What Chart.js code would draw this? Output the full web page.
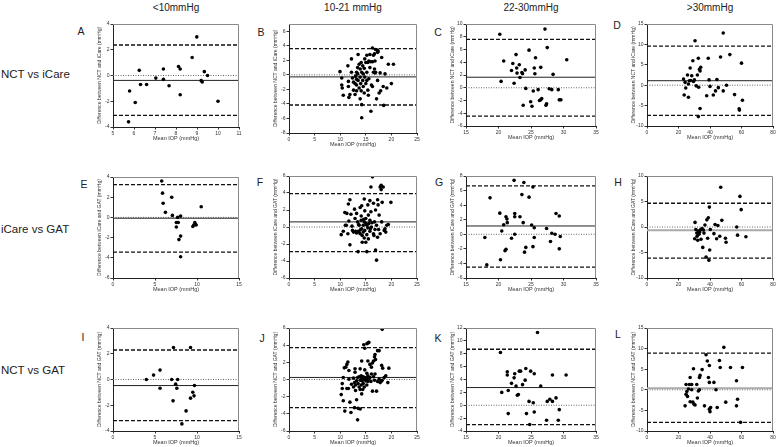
<!DOCTYPE html>
<html>
<head>
<meta charset="utf-8">
<script src="https://cdn.jsdelivr.net/npm/chart.js@4.4.1/dist/chart.umd.min.js"></script>
<style>
  body { margin: 0; background: #fff; }
  #wrap { position: relative; width: 778px; height: 447px; overflow: hidden;
          font-family: "Liberation Sans", Arial, sans-serif; color: #222; }
  .t { position: absolute; white-space: nowrap; line-height: 1; transform: translate(-50%, -50%); color: #222; }
  .row { position: absolute; white-space: nowrap; line-height: 1; transform: translateY(-50%); font-size: 11.5px; color: #222; }
  canvas { position: absolute; }
</style>
</head>
<body>
<div id="wrap"></div>
<script>
// column / row headings
const colTitles = ['<10mmHg', '10-21 mmHg', '22-30mmHg', '>30mmHg'];
const rowTitles = ['NCT vs iCare', 'iCare vs GAT', 'NCT vs GAT'];
const yTitles = ['Difference between NCT and iCare (mmHg)',
                 'Difference between iCare and GAT (mmHg)',
                 'Difference between NCT and GAT (mmHg)'];
const xTitle = 'Mean IOP (mmHg)';

// axis ranges [min, max, step]
const xA = [5, 11, 1],  yA = [-4, 4, 2];
const xB = [0, 25, 5],  yB = [-8, 7, 2];
const xC = [15, 35, 5], yC = [-6, 10, 2];
const xD = [0, 80, 20], yD = [-10, 15, 5];
const xE = [0, 15, 5],  yE = [-6, 4, 2];
const xF = [0, 25, 5],  yF = [-6, 6, 2];
const xG = [15, 35, 5], yG = [-6, 8, 2];
const xH = [0, 80, 20], yH = [-10, 10, 5];
const xI = [0, 15, 5],  yI = [-4, 4, 2];
const xJ = [0, 25, 5],  yJ = [-6, 6, 2];
const xK = [15, 35, 5], yK = [-4, 12, 2];
const xL = [0, 80, 20], yL = [-10, 15, 5];

// limits of agreement [upper, mean bias, lower]
const limA = [2.37, -0.38, -3.1];
const limB = [3.6, -0.28, -4.15];
const limC = [7.6, 1.65, -4.45];
const limD = [9.6, 1.1, -7.4];
const limE = [3.25, -0.08, -3.44];
const limF = [3.92, 0.6, -2.9];
const limG = [6.64, 1.14, -4.5];
const limH = [4.66, -0.62, -6.1];
const limI = [2.29, -0.47, -3.19];
const limJ = [3.72, 0.24, -3.28];
const limK = [8.7, 2.75, -3.0];
const limL = [8.9, 0.4, -7.9];

// points [mean IOP, difference]
const ptsA = [[5.79,-1.2],[6.06,-2.1],[5.74,-3.6],[6.25,0.4],[6.31,-0.7],[6.6,-0.7],[7.04,-0.2],[7.4,0.5],[7.4,-0.3],[7.67,-0.8],
  [8.12,0.7],[8.2,0.5],[8.2,-1.5],[8.77,1.4],[8.99,3.0],[9.2,-0.4],[9.25,-0.5],[9.35,0.3],[9.5,0.0],[10.0,-2.0]];
const ptsB = [[9.96,0.44],[10.3,-0.44],[10.3,-1.4],[10.4,-1.8],[10.6,-2.8],[11.5,1.24],[11.6,-0.9],[11.6,-1.6],[11.7,-3.1],[11.9,-2.7],
  [12.2,2.2],[12.2,0.36],[12.4,-0.44],[12.6,-1.0],[12.6,-2.1],[12.9,-1.2],[12.9,-2.7],[13.0,-0.18],[13.2,0.36],[13.2,-0.62],
  [13.2,-1.4],[13.2,-2.2],[13.4,1.0],[13.4,0.13],[13.5,2.8],[13.5,-0.76],[13.7,1.47],[13.7,-1.8],[13.9,0.8],[13.9,-0.31],
  [13.9,-3.3],[14.0,-1.2],[14.1,1.7],[14.1,-2.2],[14.2,0.36],[14.2,-4.1],[14.2,-5.9],[14.4,1.24],[14.4,-0.76],[14.5,0.13],
  [14.5,-1.6],[14.7,0.9],[14.7,-2.5],[14.8,2.2],[14.8,-0.31],[15.0,1.7],[15.0,-1.2],[15.2,2.7],[15.2,0.36],[15.2,-0.76],
  [15.4,1.7],[15.4,-2.1],[15.5,-2.8],[15.6,1.9],[15.6,-0.53],[15.8,2.8],[15.8,1.0],[15.95,1.8],[16.0,-5.0],[16.1,-1.4],
  [16.3,3.7],[16.3,1.8],[16.3,-1.6],[16.5,2.7],[16.5,0.36],[16.7,0.8],[16.7,2.9],[16.8,1.9],[16.8,0.27],[16.9,3.5],
  [16.9,0.36],[17.1,-3.3],[17.3,3.4],[17.3,3.1],[17.3,-0.76],[17.4,3.2],[17.6,-2.5],[17.8,0.27],[17.9,-2.2],[18.1,2.4],
  [18.4,-1.6],[18.5,-4.2],[18.75,0.13],[19.1,-1.8],[19.4,1.47],[20.0,-1.2],[20.4,1.47]];
const ptsC = [[20.2,8.4],[20.8,4.2],[20.4,1.0],[22.2,3.8],[22.0,2.7],[22.4,0.7],[22.7,5.2],[22.8,3.1],[22.85,2.3],[23.2,3.6],
  [23.3,1.6],[23.6,2.4],[23.7,2.2],[23.8,-2.75],[24.1,2.8],[24.2,-0.1],[24.7,5.9],[24.95,-2.2],[25.15,-2.9],[25.35,-0.5],
  [25.5,3.1],[25.6,2.2],[25.7,4.7],[26.1,-0.3],[26.3,-2.0],[26.5,3.2],[26.5,-1.9],[26.65,-1.7],[27.15,9.2],[27.3,-2.75],
  [27.4,-2.5],[27.5,6.3],[27.8,-0.15],[28.2,-0.3],[28.4,2.1],[29.2,-0.3],[29.35,-1.9],[29.6,-1.9],[30.5,4.4]];
const ptsD = [[23.2,1.5],[23.6,-2.4],[24.2,0.7],[24.6,-0.7],[25.7,2.5],[26.3,0.3],[26.3,-2.95],[26.9,1.1],[27.4,4.2],[27.8,1.15],
  [28.4,2.3],[29.1,6.0],[29.5,0.9],[30.1,1.3],[30.5,10.9],[31.2,-0.16],[32.0,2.5],[32.6,6.6],[32.8,-0.5],[33.3,3.9],
  [33.7,3.5],[33.7,-5.7],[34.1,4.4],[32.6,-7.7],[37.9,-2.6],[38.9,6.6],[39.4,1.3],[40.0,-0.3],[42.1,-2.4],[43.5,-1.4],
  [44.4,1.4],[45.3,-0.6],[46.7,6.9],[48.4,12.8],[48.4,-1.4],[52.6,7.5],[50.5,0.0],[55.6,-2.3],[58.5,-5.8],[58.7,-6.1],
  [60.0,5.4],[60.6,-3.7]];
const ptsE = [[5.8,3.6],[5.9,2.4],[5.97,1.4],[6.24,0.5],[6.99,2.0],[7.07,0.2],[7.54,-0.5],[7.54,-0.95],[7.77,-0.5],[7.7,0.0],
  [8.05,0.13],[8.05,-3.9],[7.85,-2.2],[8.05,-1.85],[9.5,-0.9],[9.62,-0.75],[9.74,-0.52],[9.8,-0.69],[9.9,-0.75],[10.5,1.05]];
const ptsF = [[10.2,-0.9],[10.6,-0.5],[10.9,1.7],[11.3,1.6],[11.0,0.2],[11.2,0.2],[11.5,-0.8],[11.6,2.7],[11.9,3.2],[11.7,0.7],
  [12.1,1.5],[11.9,-2.1],[12.6,-0.6],[12.8,2.1],[12.9,1.0],[13.0,-0.5],[13.2,-0.7],[13.2,1.6],[13.4,0.6],[13.5,-0.5],
  [13.7,-0.6],[13.7,0.2],[13.9,2.3],[13.9,-0.8],[14.1,0.8],[14.1,1.3],[14.2,2.5],[14.2,-0.2],[14.3,-1.0],[14.3,-1.8],
  [14.5,0.2],[14.5,-0.6],[14.7,3.3],[14.7,0.6],[14.7,-1.3],[14.8,1.9],[14.8,-0.4],[15.0,1.0],[15.0,-1.8],[13.5,-2.9],
  [15.2,0.2],[15.2,-0.9],[15.4,2.6],[15.4,-0.1],[15.5,1.4],[15.5,-1.4],[15.6,0.4],[15.8,3.1],[15.8,0.8],[15.8,-0.5],
  [16.0,1.8],[16.1,0.0],[16.3,5.9],[16.0,4.7],[16.5,2.8],[16.5,-0.8],[16.7,0.6],[16.8,-0.3],[16.9,2.0],[17.1,0.2],
  [17.3,3.2],[17.3,-1.2],[17.4,2.6],[17.6,1.4],[17.8,-0.8],[17.8,4.7],[18.0,4.9],[18.0,4.4],[18.1,0.6],[18.2,2.9],
  [18.4,4.7],[18.6,-0.4],[15.2,-2.9],[18.75,-0.2],[19.1,0.2],[19.4,0.3],[19.9,2.9],[17.1,-3.9],[16.9,-2.7],[14.6,0.9],
  [15.0,0.4],[16.2,0.5],[13.6,0.3],[12.4,-0.4],[14.0,-0.3],[15.9,-0.2],[16.6,-1.0],[17.5,-0.3],[18.9,-0.6],[12.3,0.1]];
const ptsG = [[18.7,5.0],[17.9,-0.45],[18.2,-4.2],[20.2,2.9],[20.5,0.45],[20.3,-3.5],[20.8,1.3],[21.15,2.4],[21.3,2.1],[21.35,1.6],
  [21.15,-2.05],[21.0,-2.27],[22.4,7.4],[22.0,-0.55],[22.5,0.0],[22.5,2.86],[22.5,2.4],[23.3,2.4],[23.6,5.45],[23.8,1.6],
  [23.9,7.1],[24.0,-2.45],[24.2,-1.8],[24.7,5.1],[25.1,1.27],[25.3,6.5],[25.3,-1.7],[25.5,0.9],[25.5,-0.45],[27.4,0.8],
  [28.0,-1.0],[28.2,0.14],[28.7,0.0],[28.85,2.86],[29.35,2.5],[29.5,-0.3],[29.35,-2.0]];
const ptsH = [[30.5,0.9],[30.3,-2.3],[31.0,-0.5],[31.6,-1.2],[31.8,-1.8],[32.2,-2.6],[32.6,-0.8],[33.0,-1.4],[33.5,-1.0],[34.1,-0.5],
  [34.3,-2.4],[35.0,-0.3],[35.4,-4.0],[35.8,-0.6],[36.2,-1.2],[36.8,0.4],[37.5,-5.9],[38.0,1.4],[38.5,-2.2],[38.9,1.8],
  [39.3,-6.5],[39.6,3.9],[39.8,-4.5],[40.2,-0.5],[42.5,-1.3],[43.2,0.5],[44.2,-2.3],[45.0,0.3],[46.2,-1.8],[46.8,7.8],
  [47.5,1.3],[49.8,-2.2],[50.2,-3.0],[57.0,0.0],[57.5,-1.6],[59.0,6.0],[59.8,3.4],[62.8,-1.9]];
const ptsI = [[3.97,0.0],[4.83,0.34],[5.6,0.73],[5.6,-0.68],[6.99,0.0],[7.15,-1.66],[7.2,2.49],[7.46,-0.36],[7.6,-0.68],[7.7,0.0],
  [8.2,-3.45],[8.7,-2.44],[9.23,-1.45],[9.23,2.49],[9.5,-0.99],[9.65,-1.27],[9.7,-0.47]];
const ptsJ = [[18.2,5.84],[15.2,4.16],[15.4,4.24],[15.6,4.32],[14.8,3.64],[14.6,4.04],[17.3,3.36],[17.6,3.36],[16.8,2.92],[16.7,2.64],
  [16.9,2.32],[16.5,2.16],[18.1,1.64],[18.3,1.32],[19.5,1.32],[11.5,2.04],[11.3,1.76],[11.1,1.44],[10.8,1.36],[11.7,1.04],
  [12.9,1.24],[14.2,2.16],[13.9,1.24],[15.4,2.16],[15.8,1.76],[16.1,1.44],[16.3,1.92],[14.8,1.12],[15.2,0.72],[10.6,0.24],
  [10.4,-0.48],[10.2,-1.76],[10.4,-1.04],[10.6,-2.48],[10.9,-3.68],[11.3,-1.04],[11.6,-1.04],[11.7,0.04],[11.9,-2.64],[12.1,-3.84],
  [12.2,-0.56],[12.6,-0.88],[12.6,0.16],[12.8,-0.36],[12.9,0.84],[13.0,-0.64],[13.0,-1.28],[13.2,-0.16],[13.2,-2.36],[13.4,0.24],
  [13.5,-0.48],[13.5,-3.36],[13.7,-0.88],[13.7,0.32],[13.9,-0.08],[13.9,-1.16],[14.1,-0.64],[14.1,0.44],[14.2,0.16],[14.2,-1.68],
  [14.3,-0.16],[14.4,-1.16],[14.5,0.32],[14.5,-0.48],[14.7,0.04],[14.7,-0.88],[14.8,0.24],[15.0,-0.16],[15.2,-0.64],[15.2,0.16],
  [15.4,0.44],[15.4,-0.24],[15.6,0.04],[15.8,0.24],[16.0,-0.24],[16.1,0.64],[16.3,-1.36],[16.5,0.32],[16.7,-0.08],[16.8,0.64],
  [17.1,-1.36],[17.3,-0.24],[17.6,0.04],[17.8,-0.36],[18.0,-0.24],[18.2,-0.08],[18.6,0.24],[18.9,0.44],[19.3,-0.36],[13.9,-3.44],
  [13.4,-4.7],[12.8,-3.28]];
const ptsK = [[20.3,8.2],[20.5,2.0],[21.35,5.2],[21.35,4.7],[21.5,2.3],[21.5,-1.3],[22.0,3.4],[22.4,4.26],[22.5,4.9],[22.7,3.0],
  [22.9,1.56],[23.05,1.66],[23.2,5.3],[23.4,5.3],[23.7,3.2],[24.1,3.9],[24.2,5.7],[24.3,-1.3],[24.7,0.6],[24.95,5.3],
  [25.35,0.4],[25.5,4.9],[25.5,-1.04],[26.0,11.3],[26.5,3.0],[27.4,-2.34],[27.5,0.6],[27.9,0.94],[28.3,0.6],[28.3,4.7],
  [28.85,1.14],[29.2,-2.34],[29.35,-0.68],[30.4,4.7],[24.8,-3.0]];
const ptsL = [[24.2,-3.9],[24.8,-1.1],[24.8,1.3],[25.3,-0.4],[25.7,-1.6],[26.3,0.2],[26.9,1.3],[27.4,3.0],[27.4,-2.9],[28.4,1.3],
  [28.4,0.0],[29.1,-3.0],[29.5,5.1],[29.9,-3.5],[30.5,-3.7],[31.6,1.3],[32.0,-2.0],[32.6,-0.3],[33.3,3.0],[33.7,3.5],
  [33.3,0.0],[35.0,4.9],[36.5,-3.9],[37.5,8.5],[38.3,7.0],[39.0,3.0],[39.6,5.9],[39.6,-4.7],[40.0,-5.3],[39.6,1.8],
  [40.4,-4.3],[42.5,1.8],[43.8,0.0],[44.6,-4.3],[46.0,7.1],[46.5,5.4],[48.8,10.3],[50.0,-3.0],[53.0,5.4],[56.8,2.2],
  [56.8,-3.9],[57.5,-2.3],[60.6,5.4],[59.4,-7.9]];

// layout: plot-area boxes [left, top, right, bottom] in page pixels
const boxes = {
  A: [113, 24, 239, 127], B: [289, 24, 417, 133], C: [466, 24, 596, 126], D: [647, 24, 773, 126],
  E: [113, 177, 239, 278], F: [289, 176, 417, 278], G: [466, 176, 596, 278], H: [647, 176, 773, 278],
  I: [113, 328, 239, 431], J: [289, 328, 417, 431], K: [466, 328, 596, 431], L: [647, 328, 773, 431]
};
const letterPos = {
  A: [81, 31], B: [261, 32], C: [438, 32], D: [617, 25], E: [84, 184], F: [260, 182],
  G: [439, 182], H: [618, 182], I: [83, 337], J: [262, 338], K: [438, 338], L: [618, 334]
};

const panels = [
  ['A', ptsA, limA, xA, yA, 0], ['B', ptsB, limB, xB, yB, 0], ['C', ptsC, limC, xC, yC, 0], ['D', ptsD, limD, xD, yD, 0],
  ['E', ptsE, limE, xE, yE, 1], ['F', ptsF, limF, xF, yF, 1], ['G', ptsG, limG, xG, yG, 1], ['H', ptsH, limH, xH, yH, 1],
  ['I', ptsI, limI, xI, yI, 2], ['J', ptsJ, limJ, xJ, yJ, 2], ['K', ptsK, limK, xK, yK, 2], ['L', ptsL, limL, xL, yL, 2]
];
const greyMean = ['H', 'L'];

const wrap = document.getElementById('wrap');
const FONT = '"Liberation Sans", Arial, sans-serif';

function addText(txt, x, y, size, cls) {
  const d = document.createElement('div');
  d.className = cls || 't';
  d.textContent = txt;
  d.style.left = x + 'px';
  d.style.top = y + 'px';
  d.style.fontSize = size + 'px';
  wrap.appendChild(d);
}

// top and right edges of the plot frame
const framePlugin = {
  id: 'frame',
  afterDraw(chart) {
    const a = chart.chartArea, ctx = chart.ctx;
    ctx.save();
    ctx.strokeStyle = '#8a8a8a';
    ctx.lineWidth = 1;
    ctx.beginPath();
    ctx.moveTo(a.left, a.top + 0.5);
    ctx.lineTo(a.right - 0.5, a.top + 0.5);
    ctx.lineTo(a.right - 0.5, a.bottom);
    ctx.stroke();
    ctx.restore();
  }
};

function hLine(v, xr, color, width, dash, order) {
  return {
    type: 'line', data: [{ x: xr[0], y: v }, { x: xr[1], y: v }],
    borderColor: color, borderWidth: width, borderDash: dash,
    pointRadius: 0, showLine: true, order: order
  };
}

panels.forEach(([id, pts, lim, xr, yr, row]) => {
  const [pl, pt, pr, pb] = boxes[id];
  const cv = document.createElement('canvas');
  const w = pr - pl + 26, h = pb - pt + 20;
  cv.width = w; cv.height = h;
  cv.style.left = (pl - 20) + 'px';
  cv.style.top = (pt - 5) + 'px';
  cv.style.width = w + 'px'; cv.style.height = h + 'px';
  wrap.appendChild(cv);

  const grey = greyMean.includes(id);
  new Chart(cv, {
    type: 'scatter',
    data: {
      datasets: [
        { data: pts.map(p => ({ x: p[0], y: p[1] })), backgroundColor: '#000', borderColor: '#000',
          pointRadius: 1.8, pointBorderWidth: 0, order: 0 },
        hLine(lim[0], xr, '#111', 1.3, [4, 2], 2),
        hLine(lim[2], xr, '#111', 1.3, [4, 2], 2),
        hLine(0, xr, '#666', 1, [1, 1.5], 3),
        hLine(lim[1], xr, grey ? '#aaa' : '#222', grey ? 2 : 1, [], 1)
      ]
    },
    options: {
      responsive: false, animation: false, devicePixelRatio: 1,
      layout: { padding: { left: 4, top: 5, right: 6, bottom: 0 } },
      plugins: { legend: { display: false }, tooltip: { enabled: false } },
      scales: {
        x: {
          type: 'linear', min: xr[0], max: xr[1],
          ticks: { stepSize: xr[2], includeBounds: false, autoSkip: false, maxRotation: 0,
                   font: { size: 5, family: FONT }, color: '#333', padding: 1 },
          grid: { drawOnChartArea: false, drawTicks: true, tickLength: 2.5, color: '#333' },
          border: { color: '#222', width: 1 },
          title: { display: true, text: xTitle, font: { size: 5.5, family: FONT }, color: '#333', padding: 0 },
          afterFit(s) { s.height = 15; }
        },
        y: {
          type: 'linear', min: yr[0], max: yr[1],
          ticks: { stepSize: yr[2], includeBounds: false, autoSkip: false,
                   font: { size: 5, family: FONT }, color: '#333', padding: 1 },
          grid: { drawOnChartArea: false, drawTicks: true, tickLength: 2.5, color: '#333' },
          border: { color: '#222', width: 1 },
          title: { display: true, text: yTitles[row], font: { size: 5, family: FONT }, color: '#333', padding: 0 },
          afterFit(s) { s.width = 16; }
        }
      }
    },
    plugins: [framePlugin]
  });

  const lp = letterPos[id];
  addText(id, lp[0], lp[1], 10.5);
});

const colX = [176, 353, 531, 710];
colTitles.forEach((t, i) => addText(t, colX[i], 8, 10));
const rowY = [75, 230, 371];
rowTitles.forEach((t, i) => addText(t, 1, rowY[i], 11.5, 'row'));
</script>
</body>
</html>
